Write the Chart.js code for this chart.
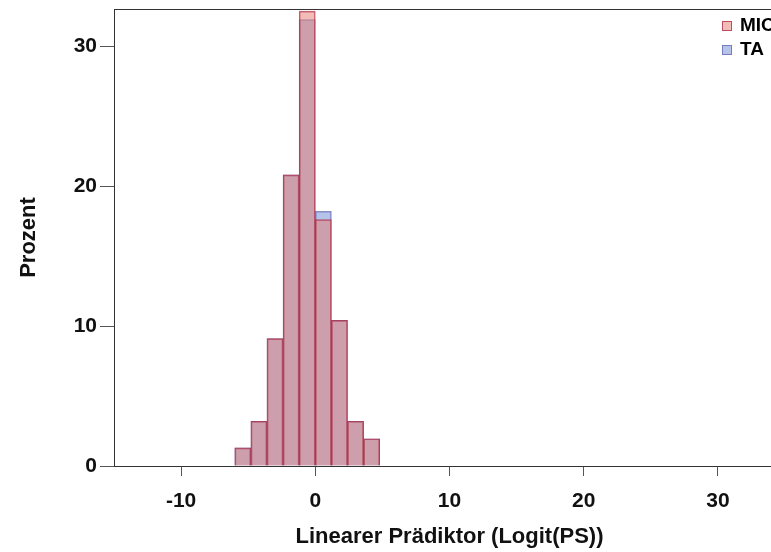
<!DOCTYPE html>
<html>
<head>
<meta charset="utf-8">
<script src="https://cdn.jsdelivr.net/npm/chart.js@4.4.1/dist/chart.umd.min.js"></script>
<style>
html,body{margin:0;padding:0;background:#fff;overflow:hidden;}
#wrap{width:800px;height:552px;}
</style>
</head>
<body>
<div id="wrap"><canvas id="c" width="800" height="552"></canvas></div>
<script>
const binCenters = [-5.4, -4.2, -3.0, -1.8, -0.6, 0.6, 1.8, 3.0, 4.2];
const micValues  = [1.3, 3.2, 9.1, 20.8, 32.5, 17.6, 10.4, 3.2, 1.95];
const taValues   = [1.3, 3.2, 9.1, 20.8, 31.9, 18.2, 10.4, 3.2, 1.95];
const seriesLabels = ['MIC', 'TA'];
const xTicks = [-10, 0, 10, 20, 30];
const yTicks = [0, 10, 20, 30];

const pinkFill = 'rgba(230,122,112,0.5)';
const blueFill = 'rgba(110,135,210,0.5)';
const pinkLine = 'rgba(170,40,70,0.75)';
const blueLine = 'rgba(90,95,175,0.7)';
const FONT = '"Liberation Sans", Arial, sans-serif';

const frame = {
  id: 'frame',
  afterDatasetsDraw(chart) {
    const {ctx, chartArea: a} = chart;
    ctx.save();
    ctx.strokeStyle = '#333';
    ctx.lineWidth = 1;
    ctx.strokeRect(Math.round(a.left) + 0.5, Math.round(a.top) + 0.5, Math.round(a.right - a.left), Math.round(a.bottom - a.top));
    const fills = [pinkFill, blueFill];
    const lines = [pinkLine, blueLine];
    ctx.font = 'bold 19px ' + FONT;
    ctx.textBaseline = 'middle';
    chart.data.datasets.forEach((ds, i) => {
      const x = 722, y = 21 + i * 24;
      ctx.fillStyle = '#fff';
      ctx.fillRect(x, y, 10, 10);
      ctx.fillStyle = fills[i];
      ctx.fillRect(x, y, 10, 10);
      ctx.strokeStyle = lines[i];
      ctx.strokeRect(x + 0.5, y + 0.5, 9, 9);
      ctx.fillStyle = '#000';
      ctx.fillText(ds.label, 740, y + 5);
    });
    ctx.restore();
  }
};

new Chart(document.getElementById('c'), {
  type: 'bar',
  data: {
    datasets: [
      { label: seriesLabels[0], data: binCenters.map((x, i) => ({x, y: micValues[i]})),
        backgroundColor: pinkFill, borderColor: pinkLine, borderWidth: 1 },
      { label: seriesLabels[1], data: binCenters.map((x, i) => ({x, y: taValues[i]})),
        backgroundColor: blueFill, borderColor: blueLine, borderWidth: 1 }
    ]
  },
  options: {
    responsive: false,
    animation: false,
    layout: { padding: { top: 9, right: 15, left: 0, bottom: 0 } },
    datasets: { bar: { barPercentage: 1, categoryPercentage: 1, grouped: false } },
    plugins: { legend: { display: false }, tooltip: { enabled: false } },
    scales: {
      x: {
        type: 'linear', min: -15, max: 35, offset: false,
        afterBuildTicks: s => { s.ticks = xTicks.map(v => ({value: v})); },
        afterFit: s => { s.height = 86; s.paddingLeft = 0; s.paddingRight = 0; },
        grid: { offset: false, drawOnChartArea: false, drawTicks: true, tickLength: 10, color: '#555' },
        border: { display: true, color: '#333' },
        ticks: { padding: 13, color: '#111', font: { family: FONT, size: 21, weight: 'bold' } },
        title: { display: true, text: 'Linearer Prädiktor (Logit(PS))', color: '#111', padding: { top: 0, bottom: 2 },
                 font: { family: FONT, size: 22, weight: 'bold' } }
      },
      y: {
        min: 0, max: 32.65,
        afterBuildTicks: s => { s.ticks = yTicks.map(v => ({value: v})); },
        afterFit: s => { s.width = 114; s.paddingTop = 0; s.paddingBottom = 0; },
        grid: { drawOnChartArea: false, drawTicks: true, tickLength: 14, color: '#555' },
        border: { display: true, color: '#333' },
        ticks: { padding: 3, color: '#111', font: { family: FONT, size: 21, weight: 'bold' } },
        title: { display: true, text: 'Prozent', color: '#111', padding: { top: 16, bottom: 0 },
                 font: { family: FONT, size: 22, weight: 'bold' } }
      }
    }
  },
  plugins: [frame]
});
</script>
</body>
</html>
